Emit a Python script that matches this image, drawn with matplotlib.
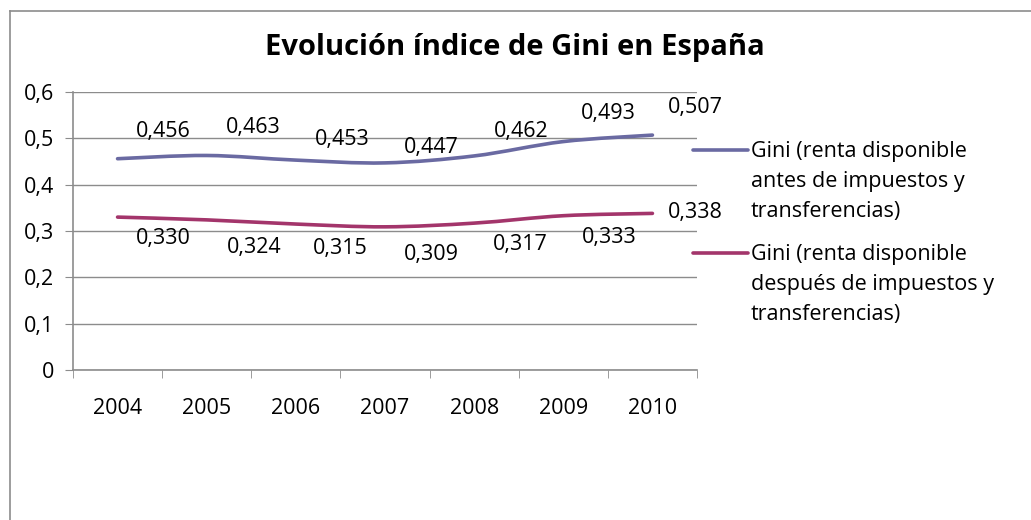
import matplotlib
matplotlib.use("Agg")
import matplotlib.pyplot as plt
from matplotlib.path import Path
from matplotlib.patches import PathPatch
from matplotlib.lines import Line2D
import numpy as np

years = ["2004", "2005", "2006", "2007", "2008", "2009", "2010"]
gini_antes = [0.456, 0.463, 0.453, 0.447, 0.462, 0.493, 0.507]
gini_despues = [0.330, 0.324, 0.315, 0.309, 0.317, 0.333, 0.338]
labels_antes = ["0,456", "0,463", "0,453", "0,447", "0,462", "0,493", "0,507"]
labels_despues = ["0,330", "0,324", "0,315", "0,309", "0,317", "0,333", "0,338"]
yticks = [0, 0.1, 0.2, 0.3, 0.4, 0.5, 0.6]
ytick_labels = ["0", "0,1", "0,2", "0,3", "0,4", "0,5", "0,6"]
series_names = ["Gini (renta disponible\nantes de impuestos y\ntransferencias)",
                "Gini (renta disponible\ndespués de impuestos y\ntransferencias)"]
title = "Evolución índice de Gini en España"

# label offsets in pixels (style): (dx right, dy up)
off_antes = [(46, 27), (47, 28), (46, 21), (46, 15), (47, 24), (45, 28), (43, 28)]
off_despues = [(46, -21), (47, -28), (44, -24), (46, -28), (46, -21), (46, -22), (43, 1)]

BLUE = "#6A6AA2"
RED = "#A3356B"
GRID = "#8C8C8C"
FONT = "Open Sans"
FS = 15.5

plt.rcParams["font.family"] = [FONT, "DejaVu Sans"]

fig = plt.figure(figsize=(10.31, 5.2), dpi=100)
W, H = 1031, 520
PX = 0.72  # points per pixel at 100 dpi

# outer chart frame (left and top border)
fig.add_artist(Line2D([9.5 / W, 9.5 / W], [0, 1 - 11 / H], color="#8C8C8C", lw=1.2, transform=fig.transFigure))
fig.add_artist(Line2D([9.5 / W, 1], [1 - 11 / H, 1 - 11 / H], color="#8C8C8C", lw=1.2, transform=fig.transFigure))

ax = fig.add_axes([73 / W, 1 - 370 / H, (697 - 73) / W, (370 - 92) / H])
x = np.arange(len(years))
ax.set_xlim(-0.5, len(years) - 0.5)
ax.set_ylim(0, 0.6)


def smooth_path(xs, ys):
    pts = list(zip(xs, ys))
    verts = [pts[0]]
    codes = [Path.MOVETO]
    n = len(pts)
    for i in range(n - 1):
        p0 = pts[i - 1] if i > 0 else pts[i]
        p1 = pts[i]
        p2 = pts[i + 1]
        p3 = pts[i + 2] if i + 2 < n else pts[i + 1]
        c1 = (p1[0] + (p2[0] - p0[0]) / 6, p1[1] + (p2[1] - p0[1]) / 6)
        c2 = (p2[0] - (p3[0] - p1[0]) / 6, p2[1] - (p3[1] - p1[1]) / 6)
        verts += [c1, c2, p2]
        codes += [Path.CURVE4] * 3
    return Path(verts, codes)


LW = 2.6
for vals, col in [(gini_antes, BLUE), (gini_despues, RED)]:
    patch = PathPatch(smooth_path(x, vals), facecolor="none", edgecolor=col, lw=LW,
                      capstyle="round", joinstyle="round", zorder=3)
    ax.add_patch(patch)

for vals, labs, offs in [(gini_antes, labels_antes, off_antes), (gini_despues, labels_despues, off_despues)]:
    for xi, v, lab, off in zip(x, vals, labs, offs):
        ax.annotate(lab, (xi, v), xytext=(off[0] * PX, off[1] * PX), textcoords="offset points",
                    ha="center", va="center", fontsize=FS, annotation_clip=False)

ax.set_yticks(yticks)
ax.set_yticklabels(ytick_labels, fontsize=FS)
ax.set_xticks(x)
ax.set_xticklabels(years, fontsize=FS)
ax.set_xticks(np.arange(-0.5, len(years), 1.0), minor=True)
ax.tick_params(axis="x", which="major", length=0, pad=28 * PX)
ax.tick_params(axis="x", which="minor", length=8 * PX, color=GRID, direction="out")
ax.tick_params(axis="y", length=8 * PX, color=GRID, pad=11 * PX)
ax.yaxis.grid(True, color=GRID, lw=1)
ax.set_axisbelow(True)
for s in ["top", "right"]:
    ax.spines[s].set_visible(False)
for s in ["left", "bottom"]:
    ax.spines[s].set_color(GRID)
    ax.spines[s].set_linewidth(1.2)

fig.text(515 / W, 1 - 55 / H, title, ha="center", va="baseline", fontsize=21, fontweight="bold")

# legend, drawn manually so that each key aligns with the first text line
leg_y = [150, 253]
for name, col, yy in zip(series_names, [BLUE, RED], leg_y):
    fig.add_artist(Line2D([693 / W, 748 / W], [1 - yy / H, 1 - yy / H], color=col, lw=LW,
                          solid_capstyle="round", transform=fig.transFigure))
    fig.text(751 / W, 1 - (yy - 9) / H, name, ha="left", va="top", fontsize=FS, linespacing=1.56)

fig.savefig("out.png", dpi=100)
